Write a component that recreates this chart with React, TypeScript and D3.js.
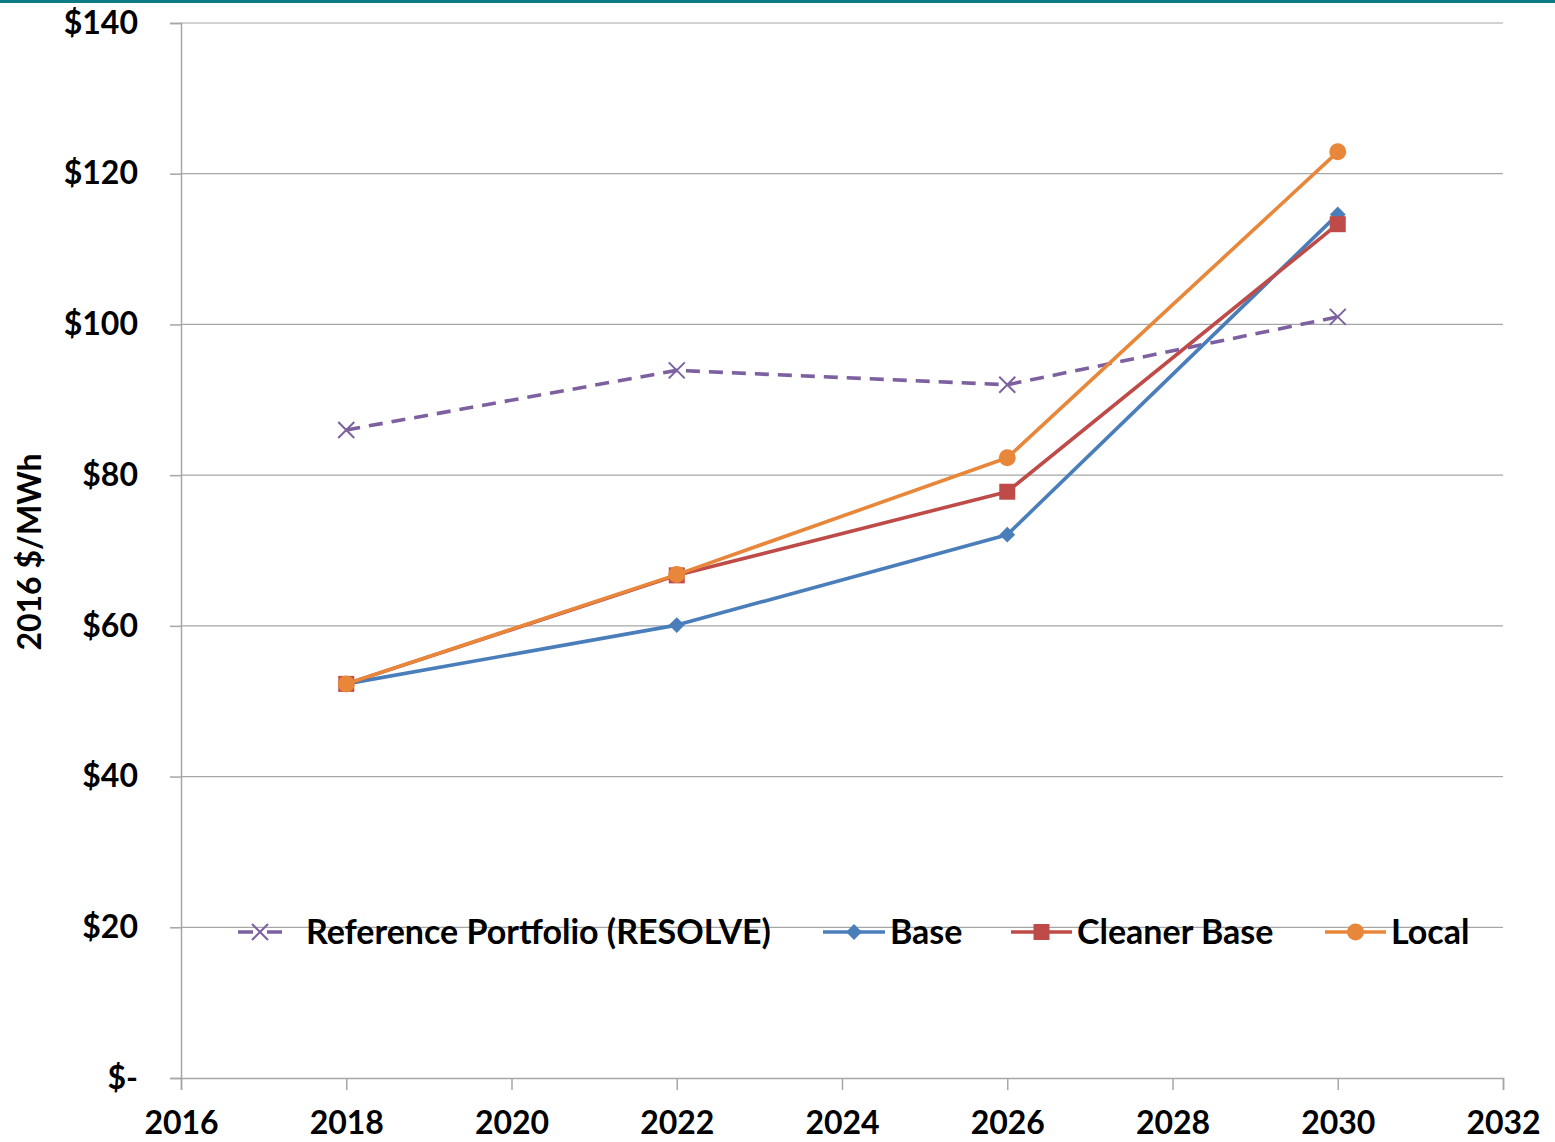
import React, { useEffect, useRef } from 'react';
import * as d3 from 'd3';

const years = [2018, 2022, 2026, 2030];
const referencePortfolio = [86.0, 93.9, 92.0, 101.0];
const base = [52.3, 60.1, 72.1, 114.6];
const cleanerBase = [52.3, 66.7, 77.8, 113.3];
const local = [52.3, 66.8, 82.3, 122.9];
const xTicks = [2016, 2018, 2020, 2022, 2024, 2026, 2028, 2030, 2032];
const yTicks = [0, 20, 40, 60, 80, 100, 120, 140];

const seriesList = [
  { name: 'Reference Portfolio (RESOLVE)', values: referencePortfolio, color: '#7D60A0', marker: 'x', dash: '14,9' },
  { name: 'Base', values: base, color: '#4A7EBB', marker: 'diamond', dash: null },
  { name: 'Cleaner Base', values: cleanerBase, color: '#BE4B48', marker: 'square', dash: null },
  { name: 'Local', values: local, color: '#E8873A', marker: 'circle', dash: null },
];

const font = 'Lato, "Open Sans", sans-serif';

const App = () => {
  const svgRef = useRef<SVGSVGElement>(null);

  useEffect(() => {
    const root = d3.select(svgRef.current);
    root.selectAll('*').remove();

    const W = 1555, H = 1142;
    const margin = { top: 23, right: 52, bottom: 64, left: 181 };
    const width = W - margin.left - margin.right;
    const height = H - margin.top - margin.bottom;

    root.attr('width', W).attr('height', H);

    // teal strip on top
    root.append('rect').attr('x', 0).attr('y', 0).attr('width', W).attr('height', 3).attr('fill', '#0E7C86');

    const svg = root.append('g').attr('transform', `translate(${margin.left},${margin.top})`);

    const x = d3.scaleLinear().domain([2016, 2032]).range([0, width]);
    const y = d3.scaleLinear().domain([0, 140]).range([height, 0]);

    // gridlines
    svg.append('g')
      .selectAll('line')
      .data(yTicks.filter(d => d > 0))
      .enter().append('line')
      .attr('x1', 0).attr('x2', width)
      .attr('y1', d => y(d)).attr('y2', d => y(d))
      .attr('stroke', '#A6A6A6').attr('stroke-width', 1.2);

    // y axis
    const yAxis = svg.append('g')
      .call(d3.axisLeft(y).tickValues(yTicks).tickSize(11).tickPadding(32)
        .tickFormat(d => (+d === 0 ? '$-' : `$${d}`)));
    yAxis.select('.domain').attr('stroke', '#A6A6A6').attr('stroke-width', 1.5);
    yAxis.selectAll('line').attr('stroke', '#A6A6A6').attr('stroke-width', 1.5);
    yAxis.selectAll('text')
      .attr('fill', '#000').style('font-family', font).style('font-weight', 'bold').style('font-size', '32px');

    // x axis
    const xAxis = svg.append('g')
      .attr('transform', `translate(0,${height})`)
      .call(d3.axisBottom(x).tickValues(xTicks).tickSize(12).tickPadding(21).tickFormat(d3.format('d')));
    xAxis.select('.domain').attr('stroke', '#A6A6A6').attr('stroke-width', 1.5);
    xAxis.selectAll('line').attr('stroke', '#A6A6A6').attr('stroke-width', 1.5);
    xAxis.selectAll('text')
      .attr('fill', '#000').style('font-family', font).style('font-weight', 'bold').style('font-size', '32px');

    // y label
    root.append('text')
      .attr('transform', `translate(41,${552}) rotate(-90)`)
      .attr('text-anchor', 'middle')
      .style('font-family', font).style('font-weight', 'bold').style('font-size', '32px')
      .text('2016 $/MWh');

    const drawMarker = (g, type, color, cx, cy) => {
      if (type === 'x') {
        const s = 8;
        g.append('path')
          .attr('d', `M${cx - s},${cy - s}L${cx + s},${cy + s}M${cx - s},${cy + s}L${cx + s},${cy - s}`)
          .attr('stroke', color).attr('stroke-width', 2).attr('fill', 'none');
      } else if (type === 'diamond') {
        g.append('path')
          .attr('d', d3.symbol().type(d3.symbolDiamond2).size(160)())
          .attr('transform', `translate(${cx},${cy})`)
          .attr('fill', color);
      } else if (type === 'square') {
        g.append('rect')
          .attr('x', cx - 8).attr('y', cy - 8).attr('width', 16).attr('height', 16)
          .attr('fill', color);
      } else {
        g.append('circle').attr('cx', cx).attr('cy', cy).attr('r', 8.5).attr('fill', color);
      }
    };

    const line = d3.line<number>()
      .x((d, i) => x(years[i]))
      .y(d => y(d));

    seriesList.forEach(s => {
      const g = svg.append('g');
      g.append('path')
        .attr('d', line(s.values))
        .attr('fill', 'none')
        .attr('stroke', s.color)
        .attr('stroke-width', 3.6)
        .attr('stroke-linejoin', 'round')
        .attr('stroke-dasharray', s.dash);
      s.values.forEach((v, i) => drawMarker(g, s.marker, s.color, x(years[i]), y(v)));
    });

    // legend
    const legendY = 932;
    const legendItems = [
      { lx: 238, lw: 44, tx: 306 },
      { lx: 823, lw: 62, tx: 890 },
      { lx: 1011, lw: 61, tx: 1077 },
      { lx: 1325, lw: 61, tx: 1391 },
    ];
    seriesList.forEach((s, i) => {
      const it = legendItems[i];
      const g = root.append('g');
      g.append('line')
        .attr('x1', it.lx).attr('x2', it.lx + it.lw)
        .attr('y1', legendY).attr('y2', legendY)
        .attr('stroke', s.color).attr('stroke-width', 3.6)
        .attr('stroke-dasharray', s.dash ? '15,14' : null);
      drawMarker(g, s.marker, s.color, it.lx + it.lw / 2, legendY);
      g.append('text')
        .attr('x', it.tx).attr('y', legendY)
        .attr('dy', '0.35em')
        .style('font-family', font).style('font-weight', 'bold').style('font-size', '34px')
        .text(s.name);
    });
  }, []);

  return <svg ref={svgRef} style={{ position: 'absolute', left: 0, top: 0 }}></svg>;
};

export default App;
